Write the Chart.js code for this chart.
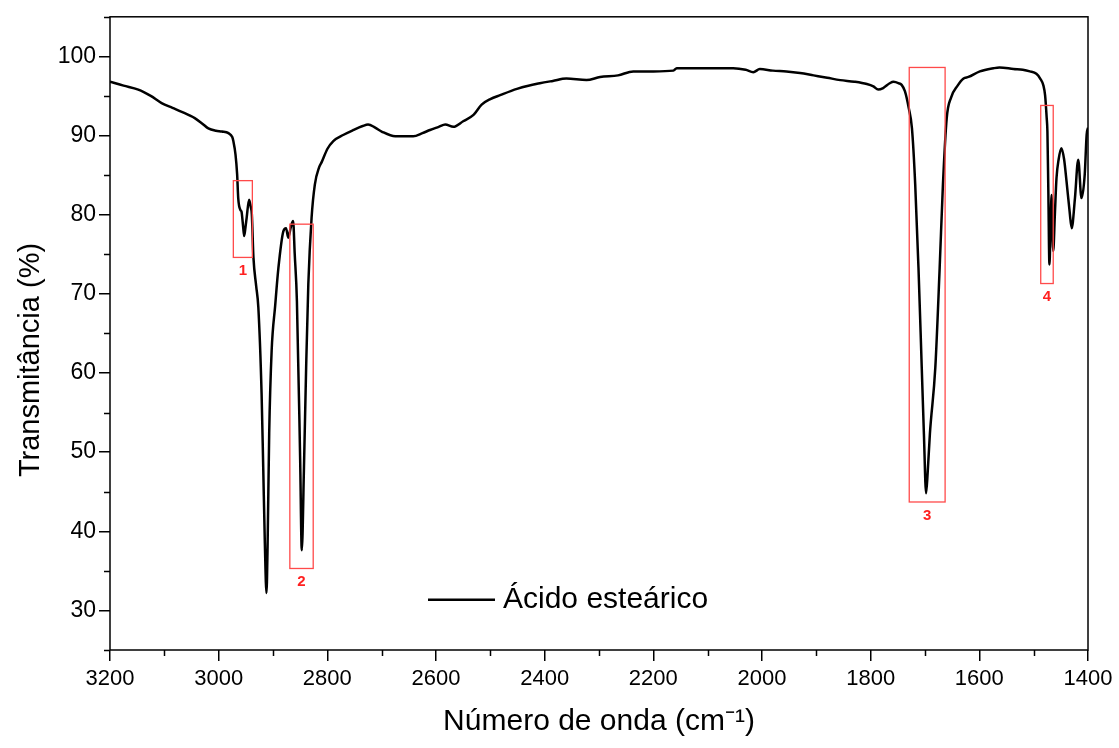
<!DOCTYPE html>
<html>
<head>
<meta charset="utf-8">
<script src="https://cdn.jsdelivr.net/npm/chart.js@4.4.0/dist/chart.umd.min.js"></script>
<style>
  body { margin: 0; background: #fff; }
  #wrap { width: 1119px; height: 748px; }
</style>
</head>
<body>
<div id="wrap"><canvas id="irChart" width="1119" height="748"></canvas></div>
<script>
// spectrum (wavenumber cm-1 -> transmittance %)
const wavenumbers = [3200, 3175, 3148, 3125, 3105, 3085, 3068, 3044, 3030, 3019, 3005, 2994, 2982, 2975, 2973, 2969, 2966, 2964, 2960, 2958, 2955, 2953, 2950.5, 2948.5, 2944, 2941, 2939, 2936, 2931, 2927, 2921, 2918, 2915, 2912, 2910, 2907, 2902.5, 2896, 2890, 2881, 2876, 2872, 2867, 2863, 2860, 2856, 2850, 2847, 2843, 2839, 2835, 2829, 2823, 2815, 2810, 2800, 2789, 2770, 2752, 2735, 2725, 2712, 2700, 2675, 2642, 2625, 2611, 2595, 2583, 2568, 2550, 2531, 2516, 2500, 2482, 2451, 2430, 2409, 2385, 2360, 2323, 2298, 2265, 2237, 2200, 2163, 2157, 2132, 2090, 2053, 2030, 2016, 2004, 1980, 1955, 1930, 1905, 1880, 1856, 1830, 1807, 1795, 1786, 1777, 1765, 1758, 1748, 1743, 1737, 1730, 1724, 1718, 1712, 1706, 1702, 1698, 1695, 1691, 1681, 1673, 1667, 1660, 1652, 1640, 1629, 1620, 1599, 1574, 1563, 1537, 1520, 1507, 1495, 1488, 1482, 1479, 1476, 1474.7, 1473, 1471, 1469, 1467, 1464, 1461, 1458, 1454, 1449, 1444, 1439.5, 1434, 1430, 1424, 1418, 1412, 1406, 1402.5, 1400];
const transmittance = [96.8, 96.3, 95.8, 95.0, 94.1, 93.5, 93.0, 92.2, 91.5, 90.9, 90.6, 90.5, 90.3, 89.8, 89.3, 87.6, 85.1, 82.1, 80.6, 80.4, 78.5, 77.3, 78.5, 79.6, 81.9, 81.0, 80.1, 74.6, 71.0, 68.3, 57.4, 48.1, 38.5, 32.2, 38.0, 52.4, 62.8, 68.5, 73.3, 77.9, 78.3, 77.1, 78.5, 79.2, 75.0, 69.1, 49.0, 37.6, 48.1, 60.7, 71.2, 79.6, 83.8, 86.0, 86.7, 88.3, 89.3, 90.1, 90.7, 91.2, 91.4, 91.0, 90.5, 89.9, 89.9, 90.3, 90.7, 91.1, 91.4, 91.1, 91.8, 92.6, 93.9, 94.6, 95.1, 95.9, 96.3, 96.6, 96.9, 97.2, 97.0, 97.4, 97.6, 98.1, 98.1, 98.2, 98.5, 98.5, 98.5, 98.5, 98.3, 98.0, 98.4, 98.2, 98.1, 97.9, 97.6, 97.3, 97.0, 96.8, 96.5, 96.2, 95.8, 96.0, 96.6, 96.8, 96.6, 96.4, 95.6, 93.5, 90.9, 83.8, 73.3, 60.7, 52.3, 44.8, 47.5, 52.3, 60.7, 73.3, 83.8, 92.2, 94.8, 96.3, 97.2, 97.4, 98.1, 98.5, 98.6, 98.4, 98.3, 98.1, 97.8, 97.2, 96.3, 95.1, 92.2, 90.5, 83.0, 73.7, 78.0, 82.5, 75.4, 80.0, 84.6, 87.0, 88.4, 87.0, 84.2, 80.5, 78.3, 82.1, 86.95, 82.1, 85.1, 90.1, 91.0];

const xMajorTicks = [3200, 3000, 2800, 2600, 2400, 2200, 2000, 1800, 1600, 1400];
const xMinorTicks = [3100, 2900, 2700, 2500, 2300, 2100, 1900, 1700, 1500];
const yMajorTicks = [30, 40, 50, 60, 70, 80, 90, 100];
const yMinorTicks = [25, 35, 45, 55, 65, 75, 85, 95, 105];

// highlighted bands: label, wavenumber from/to, transmittance top/bottom
const bandLabels = ['1', '2', '3', '4'];
const bandFrom = [2973, 2869, 1729, 1487];
const bandTo = [2938, 2826, 1663, 1464];
const bandTop = [84.3, 78.8, 98.6, 93.8];
const bandBottom = [74.6, 35.3, 43.7, 71.3];

const seriesName = 'Ácido esteárico';
const yTitle = 'Transmitância (%)';

const points = wavenumbers.map((w, i) => ({x: w, y: transmittance[i]}));

const extrasPlugin = {
  id: 'extras',
  afterDraw(chart) {
    const ctx = chart.ctx;
    const xs = chart.scales.x, ys = chart.scales.y;
    const a = chart.chartArea;
    ctx.save();
    // frame
    ctx.strokeStyle = '#000';
    ctx.lineWidth = 1.5;
    ctx.strokeRect(a.left, a.top, a.right - a.left, a.bottom - a.top);
    // minor ticks
    ctx.beginPath();
    xMinorTicks.forEach(v => {
      const px = Math.round(xs.getPixelForValue(v)) + 0.5;
      ctx.moveTo(px, a.bottom); ctx.lineTo(px, a.bottom + 6);
    });
    yMinorTicks.forEach(v => {
      const py = Math.round(ys.getPixelForValue(v)) + 0.5;
      ctx.moveTo(a.left, py); ctx.lineTo(a.left - 6, py);
    });
    ctx.stroke();

    // red boxes
    ctx.strokeStyle = '#ff4a4a';
    ctx.lineWidth = 1.3;
    ctx.fillStyle = '#ff2020';
    ctx.font = 'bold 15px "Liberation Sans", Arial, sans-serif';
    ctx.textAlign = 'center';
    ctx.textBaseline = 'top';
    bandLabels.forEach((lab, i) => {
      const x1 = xs.getPixelForValue(bandFrom[i]);
      const x2 = xs.getPixelForValue(bandTo[i]);
      const y1 = ys.getPixelForValue(bandTop[i]);
      const y2 = ys.getPixelForValue(bandBottom[i]);
      ctx.strokeRect(x1, y1, x2 - x1, y2 - y1);
      ctx.fillText(lab, (x1 + x2) / 2, y2 + 6);
    });

    // legend
    const lx = a.left + 318, ly = a.top + 583;
    ctx.strokeStyle = '#000';
    ctx.lineWidth = 2.5;
    ctx.beginPath();
    ctx.moveTo(lx, ly); ctx.lineTo(lx + 67, ly);
    ctx.stroke();
    ctx.fillStyle = '#000';
    ctx.font = '30px "Liberation Sans", Arial, sans-serif';
    ctx.textAlign = 'left';
    ctx.textBaseline = 'middle';
    ctx.fillText(seriesName, lx + 75, ly);

    // y title (centred a bit lower than the axis middle, as in the source)
    ctx.translate(31, 360);
    ctx.rotate(-Math.PI / 2);
    ctx.textAlign = 'center';
    ctx.font = '29px "Liberation Sans", Arial, sans-serif';
    ctx.fillText(yTitle, 0, 0);
    ctx.restore();
  }
};

Chart.defaults.font.family = '"Liberation Sans", Arial, sans-serif';
Chart.defaults.color = '#000';

new Chart(document.getElementById('irChart'), {
  type: 'line',
  data: {
    datasets: [{
      label: seriesName,
      data: points,
      borderColor: '#000',
      borderWidth: 2.5,
      pointRadius: 0,
      fill: false,
      cubicInterpolationMode: 'monotone'
    }]
  },
  options: {
    responsive: false,
    animation: false,
    layout: {padding: {left: 0, right: 31, top: 15, bottom: 0}},
    plugins: {legend: {display: false}, tooltip: {enabled: false}},
    scales: {
      x: {
        type: 'linear',
        reverse: true,
        min: 1400,
        max: 3200,
        afterBuildTicks: s => { s.ticks = xMajorTicks.map(v => ({value: v})); },
        afterFit: s => { s.height = 98; },
        grid: {drawOnChartArea: false, drawTicks: true, tickLength: 11, color: '#000', lineWidth: 1.5},
        border: {display: false},
        ticks: {font: {size: 22}, padding: 5, maxRotation: 0, autoSkip: false, callback: v => String(v)},
        title: {display: true, text: 'Número de onda (cm⁻¹)', font: {size: 30}, padding: {top: 0, bottom: 8}}
      },
      y: {
        type: 'linear',
        min: 25,
        max: 105,
        afterBuildTicks: s => { s.ticks = yMajorTicks.map(v => ({value: v})); },
        afterFit: s => { s.width = 110; },
        grid: {drawOnChartArea: false, drawTicks: true, tickLength: 11, color: '#000', lineWidth: 1.5},
        border: {display: false},
        ticks: {font: {size: 23}, padding: 3, autoSkip: false, callback: v => String(v)},
        title: {display: false}
      }
    }
  },
  plugins: [extrasPlugin]
});
</script>
</body>
</html>
